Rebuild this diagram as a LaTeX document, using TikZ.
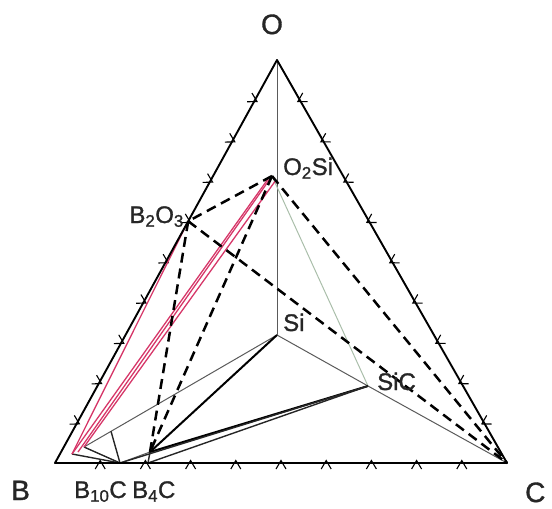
\documentclass[tikz,border=0pt]{standalone}
\usepackage{fontspec}
\setmainfont{Liberation Sans}
\newfontfamily\heavyfont{Liberation Sans}[FakeBold=1.2]
\usetikzlibrary{calc}
\definecolor{pinkc}{RGB}{214,55,105}
\definecolor{greyc}{RGB}{90,90,90}
\definecolor{greenc}{RGB}{170,190,170}
\begin{document}
\begin{tikzpicture}[x=1pt,y=-1pt,
  edge/.style={line width=1.9pt, line join=round},
  dsh/.style={line width=2.5pt, dash pattern=on 10pt off 6pt},
  tie/.style={line width=1pt, draw=greyc},
  midline/.style={line width=1.4pt, draw=black!85},
  boldline/.style={line width=2pt, draw=black},
  pinkline/.style={line width=1.3pt, draw=pinkc},
  greenline/.style={line width=1pt, draw=greenc},
  lbl/.style={inner sep=0pt, text=black!85, font=\heavyfont\fontsize{24}{26}\selectfont},
  corner/.style={inner sep=0pt, text=black!85, font=\heavyfont\fontsize{28}{30}\selectfont},
  tck/.pic={\draw[line width=1.1pt] (-5,6) -- (0,-2.5) -- (5,6);}
]
\useasboundingbox (0,0) rectangle (552,509);
% main points
\coordinate (O) at (277,60);
\coordinate (B) at (55,463);
\coordinate (C) at (507,463);
\coordinate (B2O3) at ($(B)!0.6!(O)$);
\coordinate (O2Si) at (272,176);
\coordinate (Si) at (277,335);
\coordinate (SiC) at (368,386);
\coordinate (B10C) at (120,463);
\coordinate (B4C) at (148,463);
\coordinate (Q) at (150,452);
\coordinate (PB) at (72,454);
\coordinate (E1) at (84,447);
\coordinate (P1) at ($(Si)!0.86!(E1)$);
\coordinate (O2Sia) at (268,179);
\coordinate (O2Sib) at (276,180);
\coordinate (PBa) at (78,452);

% ticks
\foreach \k in {1,...,9} {
  \pic[rotate=-118.8] at ($(B)!\k/10!(O)$) {tck};
  \pic[rotate=119.85] at ($(O)!\k/10!(C)$) {tck};
  \pic at ($(B)!\k/10!(C)$) {tck};
}

% thin lines
\draw[tie] (O) -- (Si);
\draw[tie] (Si) -- (SiC) -- (C);
\draw[greenline] (O2Si) -- (SiC);
\draw[tie] (Si) -- (E1);
\draw[midline] (P1) -- (B10C);
\draw[midline] (PB) -- (B10C);
\draw[midline] (E1) -- (B10C);
\draw[tie] (B10C) -- (Q);
\draw[boldline] (Si) -- (Q);
\draw[boldline] (SiC) -- (Q);
\draw[midline] (SiC) -- (B4C);
\draw[midline] (SiC) -- (B10C);
\draw[midline] (Q) -- (B4C);

% pink lines
\draw[pinkline] (B2O3) -- (PB);
\draw[pinkline] (O2Sia) -- (PB);
\draw[pinkline] (O2Si) -- (PBa);
\draw[pinkline] (O2Sib) -- (E1);

% dashed lines
\draw[dsh] (O2Si) -- (B2O3);
\draw[dsh] (B2O3) -- (Q);
\draw[dsh] (O2Si) -- (Q);
\draw[dsh] (B2O3) -- (C);
\draw[dsh] (O2Si) -- (C);

% triangle
\draw[edge] (B) -- (O) -- (C) -- cycle;

% labels
\node[corner, anchor=base] (lO) at (272,34) {O};
\node[corner, anchor=base west] (lB) at (11,500) {B};
\node[corner, anchor=base west] (lC) at (525,502) {C};
\node[lbl, anchor=base west] (lB10C) at (74,498) {B\textsubscript{10}C};
\node[lbl, anchor=base west] (lB4C) at (132,498) {B\textsubscript{4}C};
\node[lbl, anchor=base east] (lB2O3) at (184,223) {B\textsubscript{2}O\textsubscript{3}};
\node[lbl, anchor=base west] (lO2Si) at (283,175) {O\textsubscript{2}Si};
\node[lbl, anchor=base west] (lSi) at (283,331) {Si};
\node[lbl, anchor=base west] (lSiC) at (377,390) {SiC};
\end{tikzpicture}
\end{document}
